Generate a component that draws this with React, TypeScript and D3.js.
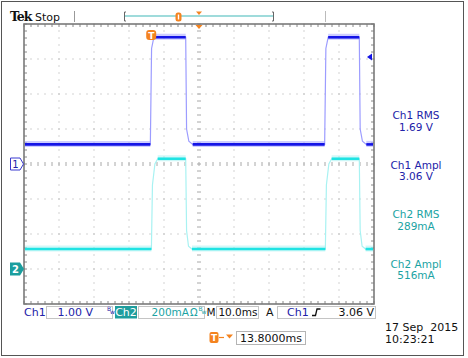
import React from 'react';
import * as d3 from 'd3';

// ---- Data ----
const timePerDiv = 10; // ms/div
const horizPos = 13.8; // ms (trigger offset)
const ch1VoltsPerDiv = 1.0;
const ch2mAPerDiv = 200;
const ch2OffsetDiv = -3; // ch2 ground 3 divs below centre
const trigLevel = 3.06;

const ch1Time = [-36.2, -0.1, 0.25, 0.9, 10.0, 10.25, 10.9, 12.0, 49.7, 50.05, 50.7, 59.6, 59.85, 60.5, 61.6, 63.8];
const ch1Volts = [0.56, 0.56, 3.3, 3.62, 3.62, 1.0, 0.65, 0.56, 0.56, 3.3, 3.62, 3.62, 1.0, 0.65, 0.56, 0.56];

const ch2Time = [-36.2, 0.2, 0.5, 1.2, 2.0, 10.0, 10.25, 10.8, 11.8, 49.9, 50.2, 50.9, 51.7, 59.6, 59.85, 60.4, 61.4, 63.8];
const ch2mA = [114, 114, 480, 600, 630, 630, 220, 130, 114, 114, 480, 600, 630, 630, 220, 130, 114, 114];

const measureLabels = ['Ch1 RMS', 'Ch1 Ampl', 'Ch2 RMS', 'Ch2 Ampl'];
const measureValues = ['1.69 V', '3.06 V', '289mA', '516mA'];
const measureChannel = [1, 1, 2, 2];

const dateText = '17 Sep  2015';
const timeText = '10:23:21';

// ---- Layout ----
const W = 468, H = 358;
const G = { left: 24, top: 24, right: 374, bottom: 304 };
const FONT = '"DejaVu Sans", sans-serif';
const C1 = '#1414e6';
const C1e = '#9c9cff';
const C1t = '#2222a8';
const C2 = '#1fe3e3';
const C2e = '#a8f2f2';
const C2t = '#1aa3a3';
const OR = '#f4831f';

const x = d3.scaleLinear().domain([horizPos - 5 * timePerDiv, horizPos + 5 * timePerDiv]).range([G.left, G.right]);
const y1 = d3.scaleLinear().domain([-4 * ch1VoltsPerDiv, 4 * ch1VoltsPerDiv]).range([G.bottom, G.top]);
const y2 = d3.scaleLinear()
  .domain([(-4 - ch2OffsetDiv) * ch2mAPerDiv, (4 - ch2OffsetDiv) * ch2mAPerDiv])
  .range([G.bottom, G.top]);

function Trace({ t, v, ys, core, edge }: { t: number[]; v: number[]; ys: d3.ScaleLinear<number, number>; core: string; edge: string }) {
  const pts: [number, number][] = t.map((tt, i) => [x(tt), ys(v[i])]);
  const line = d3.line();
  const segs: React.ReactNode[] = [];
  for (let i = 0; i < pts.length - 1; i++) {
    const [xa, ya] = pts[i];
    const [xb, yb] = pts[i + 1];
    const flat = Math.abs(yb - ya) < (xb - xa) * 0.6;
    if (flat) {
      segs.push(
        <g key={i}>
          <line x1={xa} y1={ya - 0.5} x2={xb} y2={yb - 0.5} stroke={edge} strokeWidth={6} strokeOpacity={0.5} />
          <line x1={xa} y1={ya} x2={xb} y2={yb} stroke={core} strokeWidth={2.6} />
        </g>
      );
    }
  }
  return (
    <g>
      <path d={line(pts) || ''} fill="none" stroke={edge} strokeWidth={1.2} />
      {segs}
    </g>
  );
}

export default function App() {
  const minorX = d3.range(0, 51).map((i) => x(x.domain()[0] + i * timePerDiv / 5));
  const minorY = d3.range(0, 41).map((i) => y1(-4 + i * 0.2));
  const majorX = d3.range(1, 10).map((i) => x(x.domain()[0] + i * timePerDiv));
  const majorY = d3.range(1, 8).map((i) => y1(-4 + i));
  const cx = x(horizPos);
  const cy = y1(0);
  const grey = '#a8a8a8';

  const dots: React.ReactNode[] = [];
  majorY.forEach((yy, j) => {
    if (Math.abs(yy - cy) < 0.5) return;
    minorX.forEach((xx, i) => dots.push(<rect key={`h${j}-${i}`} x={xx - 0.5} y={yy - 0.5} width={1} height={1} fill={grey} />));
  });
  majorX.forEach((xx, j) => {
    if (Math.abs(xx - cx) < 0.5) return;
    minorY.forEach((yy, i) => dots.push(<rect key={`v${j}-${i}`} x={xx - 0.5} y={yy - 0.5} width={1} height={1} fill={grey} />));
  });
  minorX.forEach((xx, i) => {
    dots.push(<line key={`ct${i}`} x1={xx} y1={cy - 2} x2={xx} y2={cy + 2} stroke={grey} strokeWidth={1} />);
  });
  minorY.forEach((yy, i) => {
    dots.push(<line key={`cv${i}`} x1={cx - 2} y1={yy} x2={cx + 2} y2={yy} stroke={grey} strokeWidth={1} />);
  });
  minorX.forEach((xx, i) => {
    dots.push(<line key={`bt${i}`} x1={xx} y1={G.top} x2={xx} y2={G.top + 3} stroke="#888" strokeWidth={1} />);
    dots.push(<line key={`bb${i}`} x1={xx} y1={G.bottom} x2={xx} y2={G.bottom - 3} stroke="#888" strokeWidth={1} />);
  });
  minorY.forEach((yy, i) => {
    dots.push(<line key={`bl${i}`} x1={G.left} y1={yy} x2={G.left + 3} y2={yy} stroke="#888" strokeWidth={1} />);
    dots.push(<line key={`br${i}`} x1={G.right} y1={yy} x2={G.right - 3} y2={yy} stroke="#888" strokeWidth={1} />);
  });

  const trigX = x(0);
  const trigY = y1(trigLevel);
  const ch1Gnd = y1(0);
  const ch2Gnd = y2(0);

  return (
    <svg width={W} height={H} style={{ position: 'absolute', left: 0, top: 0, background: '#fff' }} fontFamily={FONT}>
      <rect x={0} y={0} width={W} height={H} fill="#fff" />
      <rect x={1.5} y={1.5} width={462} height={354} fill="none" stroke="#555" strokeWidth={1} />

      {/* top bar */}
      <text x={10} y={21} fontFamily='"DejaVu Serif", serif' fontWeight="bold" fontSize={12.5} letterSpacing={-1} fill="#111">Tek</text>
      <text x={35} y={20.5} fontSize={11} fill="#111">Stop</text>
      <line x1={74.5} y1={11} x2={74.5} y2={22} stroke="#999" />
      <line x1={325.5} y1={11} x2={325.5} y2={22} stroke="#bbb" />
      <path d="M126,12 H124.5 V21 H126" fill="none" stroke="#666" />
      <path d="M272,12 H273.5 V21 H272" fill="none" stroke="#666" />
      <line x1={125} y1={16} x2={273} y2={16} stroke="#7fcfcf" strokeWidth={1.6} />
      <rect x={175.5} y={12.5} width={6} height={9} rx={2.5} fill={OR} />
      <rect x={177.8} y={14.5} width={1.4} height={5} fill="#fff" />
      <path d={`M${cx - 3},11.5 L${cx + 3},11.5 L${cx},15 Z`} fill={OR} />

      {/* graticule */}
      <rect x={G.left} y={G.top} width={G.right - G.left} height={G.bottom - G.top} fill="#fff" />
      {dots}
      <rect x={G.left} y={G.top} width={G.right - G.left} height={G.bottom - G.top} fill="none" stroke="#7a7a7a" strokeWidth={1.6} />
      <defs>
        <clipPath id="gclip">
          <rect x={G.left + 1} y={G.top + 1} width={G.right - G.left - 2} height={G.bottom - G.top - 2} />
        </clipPath>
      </defs>
      <g clipPath="url(#gclip)">
        <Trace t={ch2Time} v={ch2mA} ys={y2} core={C2} edge={C2e} />
        <Trace t={ch1Time} v={ch1Volts} ys={y1} core={C1} edge={C1e} />
      </g>

      {/* trigger markers */}
      <path d={`M${cx - 3.5},${G.top + 1} L${cx + 3.5},${G.top + 1} L${cx},${G.top + 5} Z`} fill={OR} />
      <rect x={trigX - 4.5} y={30} width={10} height={10} rx={3} fill={OR} />
      <text x={trigX + 0.5} y={38.5} fontSize={9} fontWeight="bold" fill="#fff" textAnchor="middle">T</text>
      <path d={`M${G.right - 7},${trigY} L${G.right - 2},${trigY - 3.5} L${G.right - 2},${trigY + 3.5} Z`} fill={C1} />

      {/* channel markers */}
      <path d={`M10.5,${ch1Gnd - 6} H20 L23.5,${ch1Gnd} L20,${ch1Gnd + 6} H10.5 Z`} fill="#fff" stroke="#3a3ad0" strokeWidth={1} />
      <text x={15.5} y={ch1Gnd + 4} fontSize={10} fill={C1t} textAnchor="middle">1</text>
      <path d={`M10,${ch2Gnd - 6.5} H20 L24,${ch2Gnd} L20,${ch2Gnd + 6.5} H10 Z`} fill="#1b9e9e" />
      <text x={15.5} y={ch2Gnd + 4} fontSize={10} fontWeight="bold" fill="#fff" textAnchor="middle">2</text>

      {/* measurements */}
      {measureLabels.map((lab, i) => (
        <g key={lab} fill={measureChannel[i] === 1 ? C1t : C2t} fontSize={10.5}>
          <text x={416} y={119 + i * 49.5} textAnchor="middle">{lab}</text>
          <text x={416} y={130.5 + i * 49.5} textAnchor="middle">{measureValues[i]}</text>
        </g>
      ))}

      {/* status bar row 1 */}
      <g fontSize={11}>
        <text x={24} y={316} fill={C1t}>Ch1</text>
        <rect x={46.5} y={306.5} width={66} height={12} fill="#fff" stroke="#c4c4c4" />
        <text x={93} y={316} fill={C1t} textAnchor="end">1.00 V</text>
        <text x={107} y={311} fontSize={6} fill={C1t}>B</text>
        <text x={110} y={314} fontSize={6} fill={C1t}>w</text>
        <rect x={115} y={306} width={22} height={12.5} fill="#1f9d9d" />
        <text x={126} y={316} fill="#fff" textAnchor="middle">Ch2</text>
        <rect x={138.5} y={306.5} width={66} height={12} fill="#fff" stroke="#c4c4c4" />
        <text x={189} y={316} fill={C2t} textAnchor="end" fontSize={10.5}>200mA</text>
        <text x={190} y={316} fill={C2t} fontSize={10}>Ω</text>
        <text x={198.5} y={311} fontSize={6} fill={C2t}>B</text>
        <text x={201.5} y={314} fontSize={6} fill={C2t}>w</text>
        <text x={206.5} y={316} fill="#111" fontSize={10.5}>M</text>
        <rect x={216.5} y={306.5} width={42} height={12} fill="#fff" stroke="#c4c4c4" />
        <text x={257.5} y={316} fill="#111" textAnchor="end" fontSize={10.5}>10.0ms</text>
        <text x={266} y={316} fill="#111">A</text>
        <rect x={277.5} y={306.5} width={98} height={12} fill="#fff" stroke="#c4c4c4" />
        <text x={287} y={316} fill={C1t}>Ch1</text>
        <path d="M312,315.5 H315.5 L317,309 H320.5" fill="none" stroke="#111" strokeWidth={1.3} />
        <text x={374} y={316} fill="#111" textAnchor="end">3.06 V</text>
      </g>

      {/* status bar row 2 */}
      <rect x={209.5} y={332} width={9} height={11} rx={2} fill={OR} />
      <text x={214} y={341} fontSize={9} fontWeight="bold" fill="#fff" textAnchor="middle">T</text>
      <line x1={219} y1={337.5} x2={224} y2={337.5} stroke={OR} strokeWidth={1.2} />
      <path d="M226,334.5 L233,334.5 L229.5,338.5 Z" fill={OR} />
      <rect x={236.5} y={331.5} width={69} height={13} fill="#fff" stroke="#b4b4b4" />
      <text x={240} y={342} fontSize={11} fill="#111">{`${horizPos.toFixed(4)}ms`}</text>

      <text x={385} y={331} fontSize={11} fill="#111" style={{ whiteSpace: 'pre' }}>{dateText}</text>
      <text x={385} y={342.5} fontSize={11} fill="#111">{timeText}</text>
    </svg>
  );
}
